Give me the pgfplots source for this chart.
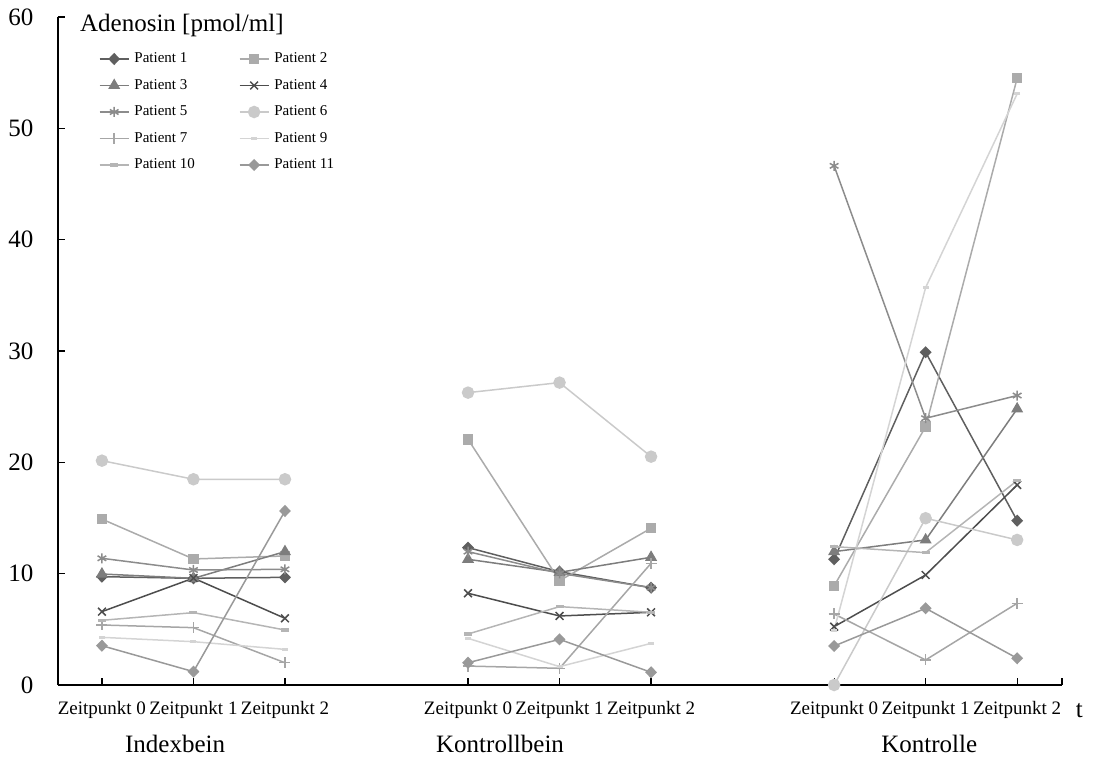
\documentclass[border=0pt]{standalone}
\usepackage{fontspec}
\setmainfont{Liberation Serif}
\usepackage{pgfplots}
\pgfplotsset{compat=1.18}
\usetikzlibrary{calc}
\definecolor{cA}{HTML}{5F5F5F}
\definecolor{cB}{HTML}{ABABAB}
\definecolor{cC}{HTML}{7D7D7D}
\definecolor{cD}{HTML}{4D4D4D}
\definecolor{cE}{HTML}{8C8C8C}
\definecolor{cF}{HTML}{CACACA}
\definecolor{cG}{HTML}{A6A6A6}
\definecolor{cI}{HTML}{D4D4D4}
\definecolor{cJ}{HTML}{B5B5B5}
\definecolor{cK}{HTML}{999999}
\begin{document}
\begin{tikzpicture}
\begin{axis}[
  scale only axis, width=1004pt, height=668pt,
  xmin=-0.48, xmax=10.49, ymin=0, ymax=60,
  axis lines*=left,
  axis line style={line width=1.3pt, black},
  tick align=inside,
  major tick length=7pt,
  tick style={line width=1.2pt, black},
  xtick={0,1,2,4,5,6,8,9,10},
  xticklabels={Zeitpunkt 0,Zeitpunkt 1,Zeitpunkt 2,Zeitpunkt 0,Zeitpunkt 1,Zeitpunkt 2,Zeitpunkt 0,Zeitpunkt 1,Zeitpunkt 2},
  extra x ticks={10.49}, extra x tick labels={},
  ytick={0,10,...,60},
  /pgf/number format/assume math mode=true,
  yticklabel style={font=\fontsize{25}{30}\selectfont, xshift=-21pt},
  xticklabel style={font=\fontsize{19}{23}\selectfont, yshift=-13pt},
  unbounded coords=jump,
  clip=false,
  every axis plot/.append style={line width=1.5pt},
  legend columns=2,
  legend cell align=left,
  legend image code/.code={\draw[mark repeat=2,mark phase=2] plot coordinates {(0pt,0pt) (14.5pt,0pt) (29pt,0pt)};},
  legend style={draw=none, fill=none, font=\fontsize{15}{18}\selectfont,
    at={(axis description cs:0.0408,0.9506)}, anchor=north west,
    inner sep=0pt, outer sep=0pt, row sep=8.5pt,
    nodes={inner sep=2pt, text height=11pt, text depth=3pt},
    /tikz/every odd column/.append style={column sep=3pt},
    /tikz/every even column/.append style={column sep=42pt}},
]
\addplot[color=cA, mark=diamond*, mark size=5pt, mark options={xscale=1.3, solid}] coordinates {
 (0,9.73)(1,9.58)(2,9.67)(3,nan)(4,12.34)(5,10.18)(6,8.74)(7,nan)(8,11.29)(9,29.89)(10,14.76)};
\addlegendentry{Patient 1}
\addplot[color=cB, mark=square*, mark size=4.5pt] coordinates {
 (0,14.9)(1,11.32)(2,11.59)(3,nan)(4,22.07)(5,9.37)(6,14.08)(7,nan)(8,8.9)(9,23.2)(10,54.5)};
\addlegendentry{Patient 2}
\addplot[color=cC, mark=triangle*, mark size=5.5pt] coordinates {
 (0,9.97)(1,9.58)(2,11.98)(3,nan)(4,11.29)(5,10.12)(6,11.47)(7,nan)(8,11.98)(9,13.03)(10,24.8)};
\addlegendentry{Patient 3}
\addplot[color=cD, mark=x, mark size=5.5pt] coordinates {
 (0,6.59)(1,9.6)(2,5.99)(3,nan)(4,8.24)(5,6.2)(6,6.53)(7,nan)(8,5.24)(9,9.88)(10,17.97)};
\addlegendentry{Patient 4}
\addplot[color=cE, mark=asterisk, mark size=5pt] coordinates {
 (0,11.38)(1,10.33)(2,10.39)(3,nan)(4,11.98)(5,10.03)(6,8.74)(7,nan)(8,46.63)(9,23.96)(10,26.0)};
\addlegendentry{Patient 5}
\addplot[color=cF, mark=*, mark size=5.5pt] coordinates {
 (0,20.15)(1,18.48)(2,18.48)(3,nan)(4,26.26)(5,27.16)(6,20.51)(7,nan)(8,0.0)(9,14.98)(10,13.03)};
\addlegendentry{Patient 6}
\addplot[color=cG, mark=+, mark size=5.5pt] coordinates {
 (0,5.39)(1,5.15)(2,2.0)(3,nan)(4,1.7)(5,1.5)(6,10.93)(7,nan)(8,6.38)(9,2.25)(10,7.34)};
\addlegendentry{Patient 7}
\addplot[color=cI, mark=-, mark size=3pt, mark options={line width=3pt}] coordinates {
 (0,4.28)(1,3.89)(2,3.2)(3,nan)(4,4.19)(5,1.65)(6,3.74)(7,nan)(8,4.94)(9,35.7)(10,53.1)};
\addlegendentry{Patient 9}
\addplot[color=cJ, mark=-, mark size=4pt, mark options={line width=3.5pt}] coordinates {
 (0,5.81)(1,6.5)(2,4.94)(3,nan)(4,4.58)(5,7.04)(6,6.53)(7,nan)(8,12.43)(9,11.89)(10,18.36)};
\addlegendentry{Patient 10}
\addplot[color=cK, mark=diamond*, mark size=5pt, mark options={xscale=1.3}] coordinates {
 (0,3.53)(1,1.2)(2,15.63)(3,nan)(4,2.0)(5,4.1)(6,1.14)(7,nan)(8,3.5)(9,6.89)(10,2.4)};
\addlegendentry{Patient 11}
\node[anchor=base west, font=\fontsize{25}{30}\selectfont, inner sep=0pt] at (axis cs:-0.24,58.7) {Adenosin [pmol/ml]};
\node[anchor=base, font=\fontsize{25}{30}\selectfont, inner sep=0pt] at (axis cs:0.80,0) [yshift=-67pt] {Indexbein};
\node[anchor=base, font=\fontsize{25}{30}\selectfont, inner sep=0pt] at (axis cs:4.35,0) [yshift=-67pt] {Kontrollbein};
\node[anchor=base, font=\fontsize{25}{30}\selectfont, inner sep=0pt] at (axis cs:9.04,0) [yshift=-67pt] {Kontrolle};
\node[anchor=base, font=\fontsize{25}{30}\selectfont, inner sep=0pt] at (axis cs:10.68,0) [yshift=-32pt] {t};
\coordinate (bl) at (rel axis cs:0,0);
\coordinate (tr) at (rel axis cs:1,1);
\end{axis}
\pgfresetboundingbox
\path ($(bl)+(-58pt,-78pt)$) rectangle ($(tr)+(33pt,17pt)$);
\end{tikzpicture}
\end{document}
